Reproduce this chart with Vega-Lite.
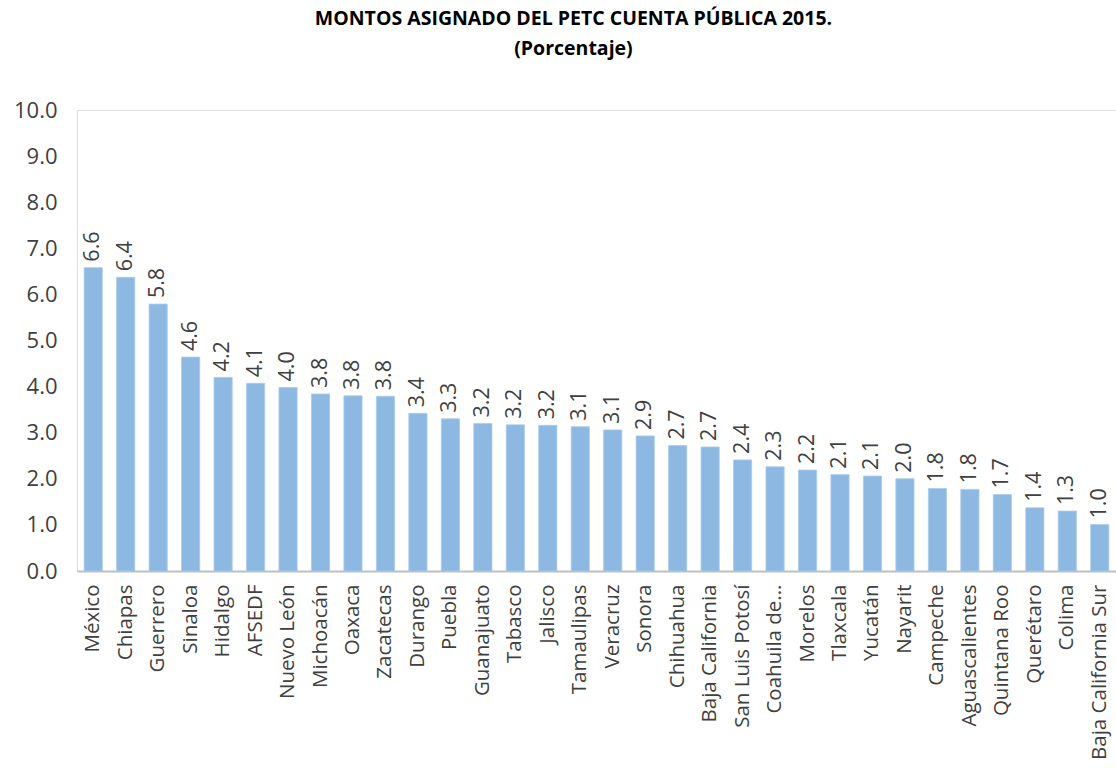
{
  "$schema": "https://vega.github.io/schema/vega-lite/v6.json",
  "width": 1039,
  "height": 461,
  "autosize": {"type": "none"},
  "padding": {"left": 77, "top": 110, "right": 0, "bottom": 207},
  "background": "white",
  "title": {
    "text": ["MONTOS ASIGNADO DEL PETC CUENTA PÚBLICA 2015.", "(Porcentaje)"],
    "font": "Open Sans",
    "fontSize": 19.5,
    "fontWeight": "bold",
    "color": "#000000",
    "lineHeight": 30,
    "anchor": "middle",
    "dx": -23,
    "offset": 40
  },
  "data": {
    "values": [
      {"estado": "México", "valor": 6.58},
      {"estado": "Chiapas", "valor": 6.37},
      {"estado": "Guerrero", "valor": 5.79},
      {"estado": "Sinaloa", "valor": 4.64},
      {"estado": "Hidalgo", "valor": 4.2},
      {"estado": "AFSEDF", "valor": 4.07},
      {"estado": "Nuevo León", "valor": 3.98},
      {"estado": "Michoacán", "valor": 3.84},
      {"estado": "Oaxaca", "valor": 3.8},
      {"estado": "Zacatecas", "valor": 3.79},
      {"estado": "Durango", "valor": 3.42},
      {"estado": "Puebla", "valor": 3.3},
      {"estado": "Guanajuato", "valor": 3.2},
      {"estado": "Tabasco", "valor": 3.17},
      {"estado": "Jalisco", "valor": 3.16},
      {"estado": "Tamaulipas", "valor": 3.13},
      {"estado": "Veracruz", "valor": 3.06},
      {"estado": "Sonora", "valor": 2.93},
      {"estado": "Chihuahua", "valor": 2.72},
      {"estado": "Baja California", "valor": 2.69},
      {"estado": "San Luis Potosí", "valor": 2.41},
      {"estado": "Coahuila de...", "valor": 2.26},
      {"estado": "Morelos", "valor": 2.19},
      {"estado": "Tlaxcala", "valor": 2.09},
      {"estado": "Yucatán", "valor": 2.06},
      {"estado": "Nayarit", "valor": 2.0},
      {"estado": "Campeche", "valor": 1.79},
      {"estado": "Aguascalientes", "valor": 1.77},
      {"estado": "Quintana Roo", "valor": 1.66},
      {"estado": "Querétaro", "valor": 1.37},
      {"estado": "Colima", "valor": 1.3},
      {"estado": "Baja California Sur", "valor": 1.01}
    ]
  },
  "encoding": {
    "x": {
      "field": "estado",
      "type": "nominal",
      "sort": null,
      "scale": {"paddingInner": 0.44, "paddingOuter": 0.22},
      "axis": {
        "title": null,
        "labelAngle": -90,
        "labelAlign": "right",
        "labelBaseline": "middle",
        "labelFont": "Open Sans",
        "labelFontSize": 20.5,
        "labelColor": "#404040",
        "labelPadding": 13,
        "labelLimit": 300,
        "ticks": false,
        "domainColor": "#BFBFBF",
        "domainWidth": 2
      }
    },
    "y": {
      "field": "valor",
      "type": "quantitative",
      "scale": {"domain": [0, 10], "nice": false},
      "axis": {
        "title": null,
        "values": [0, 1, 2, 3, 4, 5, 6, 7, 8, 9, 10],
        "format": ".1f",
        "grid": false,
        "domain": false,
        "ticks": false,
        "labelFont": "Open Sans",
        "labelFontSize": 22,
        "labelColor": "#404040",
        "labelPadding": 20
      }
    }
  },
  "layer": [
    {
      "mark": {"type": "bar", "color": "#8DB8E2", "stroke": "#A9CBEA", "strokeWidth": 0.8}
    },
    {
      "mark": {
        "type": "text",
        "angle": 270,
        "align": "left",
        "baseline": "middle",
        "dx": 6,
        "font": "Open Sans",
        "fontSize": 21.5,
        "color": "#404040"
      },
      "encoding": {
        "text": {"field": "valor", "type": "quantitative", "format": ".1f"}
      }
    }
  ]
}
